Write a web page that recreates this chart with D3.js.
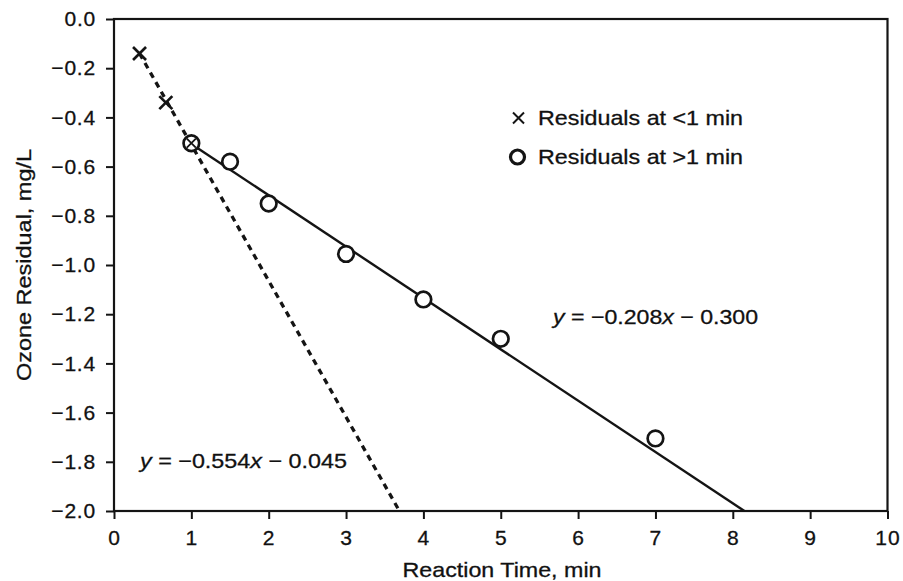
<!DOCTYPE html>
<html><head><meta charset="utf-8">
<script src="https://cdn.jsdelivr.net/npm/d3@7"></script>
<style>
body{margin:0;background:#fff}
svg text{font-family:"Liberation Sans",Arial,Helvetica,sans-serif;fill:#111;stroke:#111;stroke-width:0.3px}
</style>
</head><body>
<svg id="chart" width="903" height="581"></svg>
<script>
// ---- data ----
const earlyTime = [0.33, 0.67, 1.0];
const earlyResidual = [-0.14, -0.34, -0.505];
const lateTime = [1.0, 1.5, 2, 3, 4, 5, 7];
const lateResidual = [-0.505, -0.58, -0.75, -0.955, -1.14, -1.30, -1.705];
const shortFitX = [0.33, 3.69];
const shortFitY = [-0.14, -2.0];
const longFitX = [1.0, 8.15];
const longFitY = [-0.508, -2.0];
const xTicks = [0,1,2,3,4,5,6,7,8,9,10];
const yTicks = [0,-0.2,-0.4,-0.6,-0.8,-1.0,-1.2,-1.4,-1.6,-1.8,-2.0];
const legendLabels = ["Residuals at <1 min", "Residuals at >1 min"];
const eqShort = ["y", " = \u22120.554", "x", " \u2212 0.045"];
const eqLong = ["y", " = \u22120.208", "x", " \u2212 0.300"];
const xTitle = "Reaction Time, min";
const yTitle = "Ozone Residual, mg/L";

const svg = d3.select("#chart");
const ink = "#141414";
const x = d3.scaleLinear().domain([0, 10]).range([114, 887.5]);
const y = d3.scaleLinear().domain([0, -2]).range([19, 511]);

// axes
const xAxis = svg.append("g").attr("transform", `translate(0,${y(-2)})`)
  .call(d3.axisBottom(x).tickValues(xTicks).tickSize(8).tickPadding(11).tickFormat(d3.format("d")));
const yAxis = svg.append("g").attr("transform", `translate(${x(0)},0)`)
  .call(d3.axisLeft(y).tickValues(yTicks).tickSize(8).tickPadding(10).tickFormat(d3.format(".1f")));
[xAxis, yAxis].forEach(a => {
  a.select(".domain").remove();
  a.selectAll(".tick line").attr("stroke", ink).attr("stroke-width", 2);
  a.selectAll(".tick text").attr("fill", ink).style("font-size", "21px")
    .style("font-family", '"Liberation Sans",Arial,sans-serif');
});
yAxis.selectAll(".tick text").style("letter-spacing", "0.8px");
xAxis.selectAll(".tick text").style("letter-spacing", "1px");

// frame
svg.append("rect").attr("x", x(0)).attr("y", y(0))
  .attr("width", x(10) - x(0)).attr("height", y(-2) - y(0))
  .attr("fill", "none").attr("stroke", ink).attr("stroke-width", 2.2);

// fit lines
const line = d3.line().x(d => x(d[0])).y(d => y(d[1]));
svg.append("path").datum(d3.zip(shortFitX, shortFitY)).attr("d", line)
  .attr("fill", "none").attr("stroke", ink).attr("stroke-width", 3.3)
  .attr("stroke-dasharray", "6,5");
svg.append("path").datum(d3.zip(longFitX, longFitY)).attr("d", line)
  .attr("fill", "none").attr("stroke", ink).attr("stroke-width", 2.4);

// circles (>1 min)
svg.append("g").selectAll("circle").data(d3.zip(lateTime, lateResidual)).join("circle")
  .attr("cx", d => x(d[0])).attr("cy", d => y(d[1])).attr("r", 7.8)
  .attr("fill", "#fff").attr("stroke", ink).attr("stroke-width", 2.7);

// crosses (<1 min)
const cross = (g, s) => g.attr("d", `M${-s},${-s}L${s},${s}M${-s},${s}L${s},${-s}`)
  .attr("fill", "none").attr("stroke", ink).attr("stroke-width", 2.6);
svg.append("g").selectAll("path").data(d3.zip(earlyTime, earlyResidual)).join("path")
  .attr("transform", d => `translate(${x(d[0])},${y(d[1])})`)
  .each(function(d) { d3.select(this).call(cross, d[0] < 0.9 ? 6.5 : 4.5); })
  .attr("stroke-width", d => d[0] < 0.9 ? 2.7 : 1.8);

// legend
const leg = svg.append("g");
leg.append("path").attr("transform", "translate(518.5,118)").call(cross, 5.5).attr("stroke-width", 2);
leg.append("circle").attr("cx", 517.5).attr("cy", 157).attr("r", 7).attr("fill", "#fff")
  .attr("stroke", ink).attr("stroke-width", 3.2);
leg.selectAll("text").data(legendLabels).join("text")
  .attr("x", 538).attr("y", (d, i) => 125 + i * 39)
  .attr("textLength", 205).attr("lengthAdjust", "spacingAndGlyphs")
  .style("font-size", "21px").text(d => d);

// equations
function equation(parts, xx, yy, len) {
  const t = svg.append("text").attr("x", xx).attr("y", yy).style("font-size", "21px")
    .attr("textLength", len).attr("lengthAdjust", "spacingAndGlyphs");
  parts.forEach((p, i) => t.append("tspan").style("font-style", i % 2 === 0 ? "italic" : "normal")
    .style("white-space", "pre").text(p));
}
equation(eqShort, 140, 468, 207);
equation(eqLong, 553, 324, 205);

// axis titles
svg.append("text").attr("x", 502).attr("y", 577).attr("text-anchor", "middle")
  .attr("textLength", 199).attr("lengthAdjust", "spacingAndGlyphs")
  .style("font-size", "21px").text(xTitle);
svg.append("text").attr("transform", "translate(31,265) rotate(-90)").attr("text-anchor", "middle")
  .attr("textLength", 232).attr("lengthAdjust", "spacingAndGlyphs")
  .style("font-size", "21px").text(yTitle);
</script>
</body></html>
